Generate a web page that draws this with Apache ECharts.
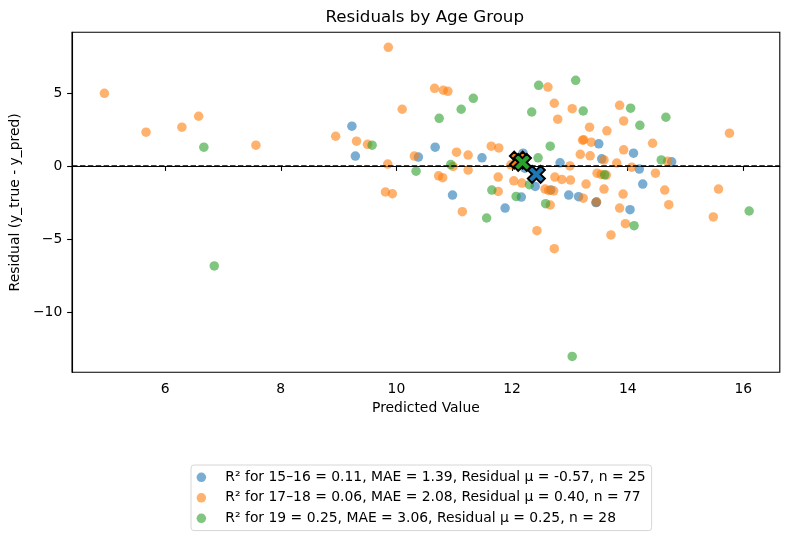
<!DOCTYPE html>
<html>
<head>
<meta charset="utf-8">
<script src="https://cdn.jsdelivr.net/npm/echarts@6/dist/echarts.min.js"></script>
<style>
  html, body { margin: 0; padding: 0; background: #fff; }
  #main { width: 790px; height: 541px; }
</style>
</head>
<body>
<div id="main"></div>
<script>
// residuals vs predicted value, one array pair per age group
var pred15 = [9.23, 9.29, 10.38, 10.67, 10.97, 11.48, 11.88, 12.16, 12.19, 12.22, 12.40, 12.40, 12.67,
  12.83, 12.98, 13.15, 13.45, 13.46, 13.50, 13.55, 14.04, 14.10, 14.20, 14.26, 14.76];
var resid15 = [2.73, 0.68, 0.61, 1.29, -1.99, 0.56, -2.88, -2.13, 0.88, -0.15, -1.40, -0.55, -1.64,
  0.22, -1.99, -2.10, -2.50, -2.47, 1.52, 0.49, -2.99, 0.88, -0.21, -1.24, 0.29];

var pred17 = [4.95, 5.67, 6.29, 6.58, 7.57, 8.95, 9.31, 9.50, 9.86, 9.85, 9.81, 9.93, 10.10, 10.66,
  10.81, 10.89, 12.62, 12.73, 13.04, 12.79, 13.34, 13.22, 13.24, 13.37, 11.04, 11.24, 11.64, 11.77,
  13.18, 10.31, 10.98, 11.98, 10.73, 10.80, 11.24, 11.14, 11.76, 11.76, 12.03, 12.17, 13.00, 12.74,
  12.86, 13.01, 13.28, 12.57, 12.63, 12.72, 13.23, 12.66, 12.43, 12.73, 13.93, 14.43, 13.35, 13.59,
  13.81, 14.07, 14.69, 13.47, 13.54, 13.63, 14.48, 13.59, 13.92, 14.64, 14.71, 15.57, 15.48, 13.46,
  13.86, 13.96, 13.71, 13.86, 13.93, 15.76, 13.64];
var resid17 = [4.98, 2.32, 2.66, 3.41, 1.43, 2.04, 1.70, 1.49, 8.13, 0.13, -1.78, -1.90, 3.89, 5.32,
  5.19, 5.12, 5.41, 4.30, 3.93, 3.21, 2.66, 1.77, 1.80, 1.63, 0.95, 0.75, 1.36, 1.24,
  0.80, 0.68, -0.03, 0.08, -0.67, -0.80, -0.28, -3.13, -0.76, -1.74, -1.01, -1.17, 0.01, -0.76,
  -0.92, -0.96, -1.24, -1.58, -1.67, -1.70, -2.20, -2.67, -4.43, -5.66, 1.11, 1.56, 0.70, 0.42,
  0.20, -0.08, 0.33, -0.49, -0.58, -0.62, -0.49, -1.58, -1.92, -1.65, -2.65, -1.58, -3.49, -2.47,
  -2.88, -3.95, -4.72, 4.16, 3.09, 2.25, 2.41];

var pred19 = [6.67, 9.58, 6.85, 11.33, 11.12, 10.74, 12.46, 13.10, 12.34, 13.23, 12.66, 12.45, 10.34,
  10.94, 11.56, 11.65, 12.07, 12.30, 12.58, 14.58, 13.60, 16.10, 14.11, 14.05, 14.21, 14.66, 13.04, 12.15];
var resid19 = [1.29, 1.43, -6.84, 4.64, 3.89, 3.27, 5.53, 5.87, 3.70, 3.77, 1.36, 0.56, -0.35,
  0.10, -3.56, -1.65, -2.08, -1.28, -2.58, 0.42, -0.60, -3.08, -4.09, 3.96, 2.79, 3.34, -13.04, 0.23];

// group means (big X markers)
var meanPred = [12.42, 12.11, 12.18];
var meanResid = [-0.57, 0.40, 0.25];

var groupNames = [
  'R² for 15–16 = 0.11, MAE = 1.39, Residual μ = -0.57, n = 25',
  'R² for 17–18 = 0.06, MAE = 2.08, Residual μ = 0.40, n = 77',
  'R² for 19 = 0.25, MAE = 3.06, Residual μ = 0.25, n = 28'
];
var colors = ['#1f77b4', '#ff7f0e', '#2ca02c'];
var xTicks = [6, 8, 10, 12, 14, 16];
var yTicks = [-10, -5, 0, 5];

var font = 'DejaVu Sans';
var xMark = 'path://M25,0 L50,25 L75,0 L100,25 L75,50 L100,75 L75,100 L50,75 L25,100 L0,75 L25,50 L0,25 Z';

function pairs(xs, ys) {
  return xs.map(function (x, i) { return [x, ys[i]]; });
}
function minus(v) { return String(v).replace('-', '\u2212'); }

var chart = echarts.init(document.getElementById('main'), null, { renderer: 'canvas' });

var groups = [[pred15, resid15], [pred17, resid17], [pred19, resid19]];
var series = groups.map(function (g, i) {
  return {
    name: groupNames[i],
    type: 'scatter',
    data: pairs(g[0], g[1]),
    symbolSize: 9.5,
    itemStyle: { color: colors[i], opacity: 0.6 },
    z: 2
  };
});
series[0].markLine = {
  silent: true,
  symbol: 'none',
  label: { show: false },
  lineStyle: { color: '#000', width: 1.5, type: [5.5, 2.4] },
  data: [{ yAxis: 0 }]
};
meanPred.forEach(function (p, i) {
  series.push({
    name: 'mean' + i,
    type: 'scatter',
    data: [[p, meanResid[i]]],
    symbol: xMark,
    symbolSize: 17,
    itemStyle: { color: colors[i], borderColor: '#000', borderWidth: 2, opacity: 1 },
    z: 5
  });
});

var option = {
  animation: false,
  textStyle: { fontFamily: font },
  title: {
    text: 'Residuals by Age Group',
    left: 424.7,
    textAlign: 'center',
    top: 9,
    padding: 0,
    textStyle: { fontFamily: font, fontSize: 16.7, fontWeight: 'normal', color: '#000' }
  },
  grid: {
    left: 69.5, right: 10.2, top: 32.3, bottom: 168.7,
    show: true, borderColor: '#000', borderWidth: 1.1, backgroundColor: '#fff'
  },
  legend: {
    orient: 'vertical',
    left: 191,
    top: 465,
    data: groupNames.map(function (n) { return { name: n, itemStyle: { opacity: 0.6 } }; }),
    icon: 'circle',
    itemWidth: 26,
    itemHeight: 9.5,
    itemGap: 6.5,
    padding: [5.3, 6, 5.3, 5.6],
    borderColor: '#d6d6d6',
    borderWidth: 1,
    borderRadius: 3,
    backgroundColor: '#fff',
    selectedMode: false,
    textStyle: { fontFamily: font, fontSize: 13.9, color: '#000', lineHeight: 14, padding: [0, 0, 0, 6] }
  },
  xAxis: {
    type: 'value',
    min: 4.39,
    max: 16.63,
    name: 'Predicted Value',
    nameLocation: 'middle',
    nameGap: 29,
    nameTextStyle: { fontFamily: font, fontSize: 13.9, color: '#000' },
    splitLine: { show: false },
    axisLine: { show: true, lineStyle: { color: '#000', width: 1.1 } },
    axisTick: { show: true, inside: false, length: 4.9, lineStyle: { color: '#000', width: 1.1 }, customValues: xTicks },
    axisLabel: { margin: 9.8, fontFamily: font, fontSize: 13.9, color: '#000', customValues: xTicks, formatter: minus }
  },
  yAxis: {
    type: 'value',
    min: -14.13,
    max: 9.16,
    name: 'Residual (y_true - y_pred)',
    nameLocation: 'middle',
    nameGap: 46,
    nameTextStyle: { fontFamily: font, fontSize: 13.9, color: '#000' },
    splitLine: { show: false },
    axisLine: { show: true, lineStyle: { color: '#000', width: 1.1 } },
    axisTick: { show: true, inside: false, length: 4.9, lineStyle: { color: '#000', width: 1.1 }, customValues: yTicks },
    axisLabel: { margin: 9.8, fontFamily: font, fontSize: 13.9, color: '#000', customValues: yTicks, formatter: minus }
  },
  series: series
};
chart.setOption(option);
</script>
</body>
</html>
